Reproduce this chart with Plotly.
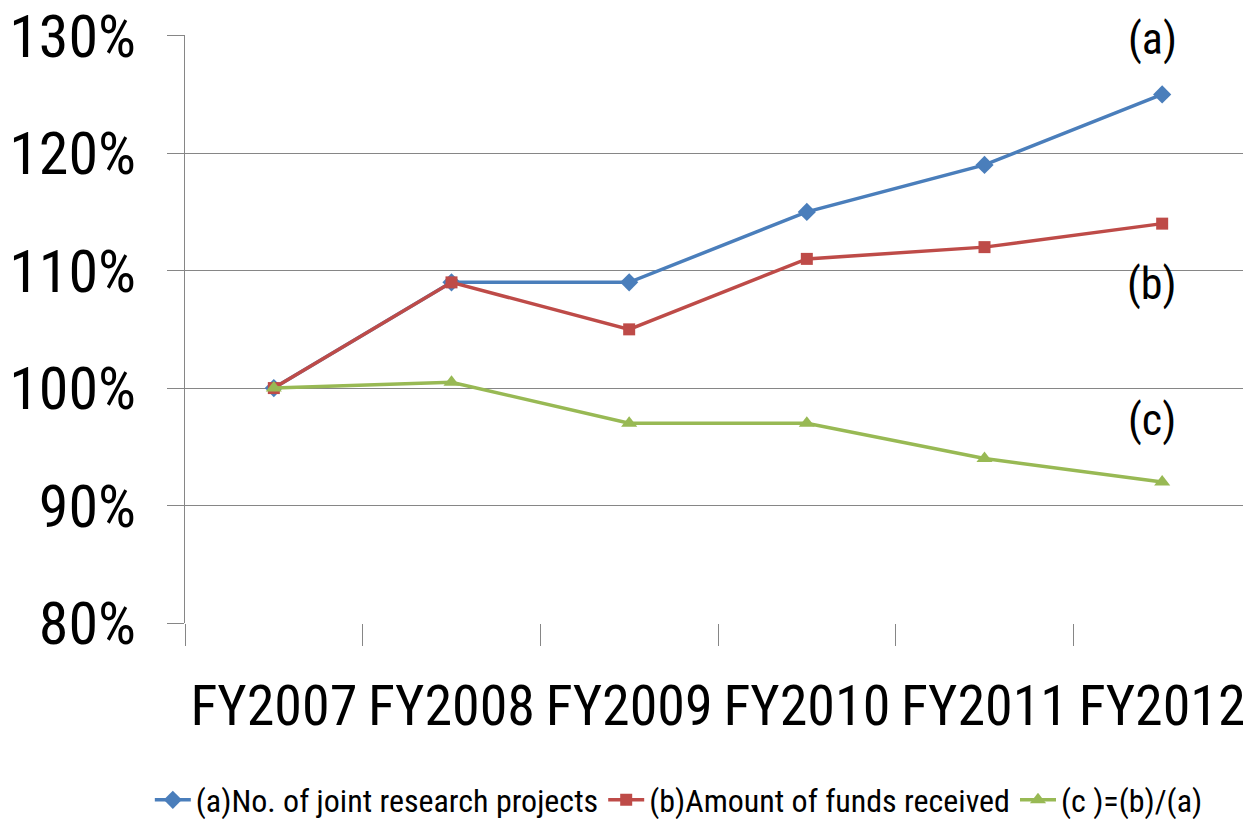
import plotly.graph_objects as go

categories = ["FY2007", "FY2008", "FY2009", "FY2010", "FY2011", "FY2012"]
series_a = [1.00, 1.09, 1.09, 1.15, 1.19, 1.25]
series_b = [1.00, 1.09, 1.05, 1.11, 1.12, 1.14]
series_c = [1.00, 1.005, 0.97, 0.97, 0.94, 0.92]
names = ["(a)No. of joint research projects", "(b)Amount of funds received", "(c )=(b)/(a)"]
labels = ["(a)", "(b)", "(c)"]
label_y = [1.297, 1.089, 0.9726]
y_ticks = [0.8, 0.9, 1.0, 1.1, 1.2, 1.3]

FONT = "Liberation Sans Narrow, Arial Narrow, Roboto Condensed, Roboto, sans-serif"

fig = go.Figure()
fig.add_trace(go.Scatter(x=categories, y=series_a, name=names[0], mode="lines+markers",
                         line=dict(color="#4A7EBB", width=3.5),
                         marker=dict(symbol="diamond", size=14, color="#4A7EBB")))
fig.add_trace(go.Scatter(x=categories, y=series_b, name=names[1], mode="lines+markers",
                         line=dict(color="#BE4B48", width=3.5),
                         marker=dict(symbol="square", size=12, color="#BE4B48")))
fig.add_trace(go.Scatter(x=categories, y=series_c, name=names[2], mode="lines+markers",
                         line=dict(color="#98B954", width=3.5),
                         marker=dict(symbol="triangle-up", size=14, color="#98B954")))

for t, yy in zip(labels, label_y):
    fig.add_annotation(x=categories[-1], y=yy, text=t, showarrow=False, xshift=-10,
                       font=dict(family=FONT, size=44, color="black"))

fig.update_layout(
    width=1243, height=811,
    margin=dict(l=177, r=0, t=27, b=196, autoexpand=False),
    paper_bgcolor="white", plot_bgcolor="white",
    font=dict(family=FONT, color="black"),
    showlegend=True,
    legend=dict(orientation="h", x=-0.033, xanchor="left", y=-0.301, yanchor="middle",
                font=dict(family=FONT, size=32, color="black"),
                itemwidth=36, tracegroupgap=0),
    xaxis=dict(type="category", range=[-0.5, 5.5], showgrid=False,
               showline=False, zeroline=False, automargin=False, tickangle=0,
               ticks="outside", tickson="boundaries", ticklen=22, tickcolor="#868686",
               tickfont=dict(family=FONT, size=56, color="black"),
               ticklabelstandoff=45),
    yaxis=dict(range=[0.8, 1.3006], tickvals=y_ticks,
               tickformat=".0%", showgrid=True, gridcolor="#868686", gridwidth=1,
               showline=True, linecolor="#868686", linewidth=1, zeroline=False,
               automargin=False, ticklabeloverflow="allow",
               ticks="outside", ticklen=17, tickcolor="#868686",
               tickfont=dict(family=FONT, size=60, color="black"),
               ticklabelstandoff=19),
)

fig.write_html("out.html")
